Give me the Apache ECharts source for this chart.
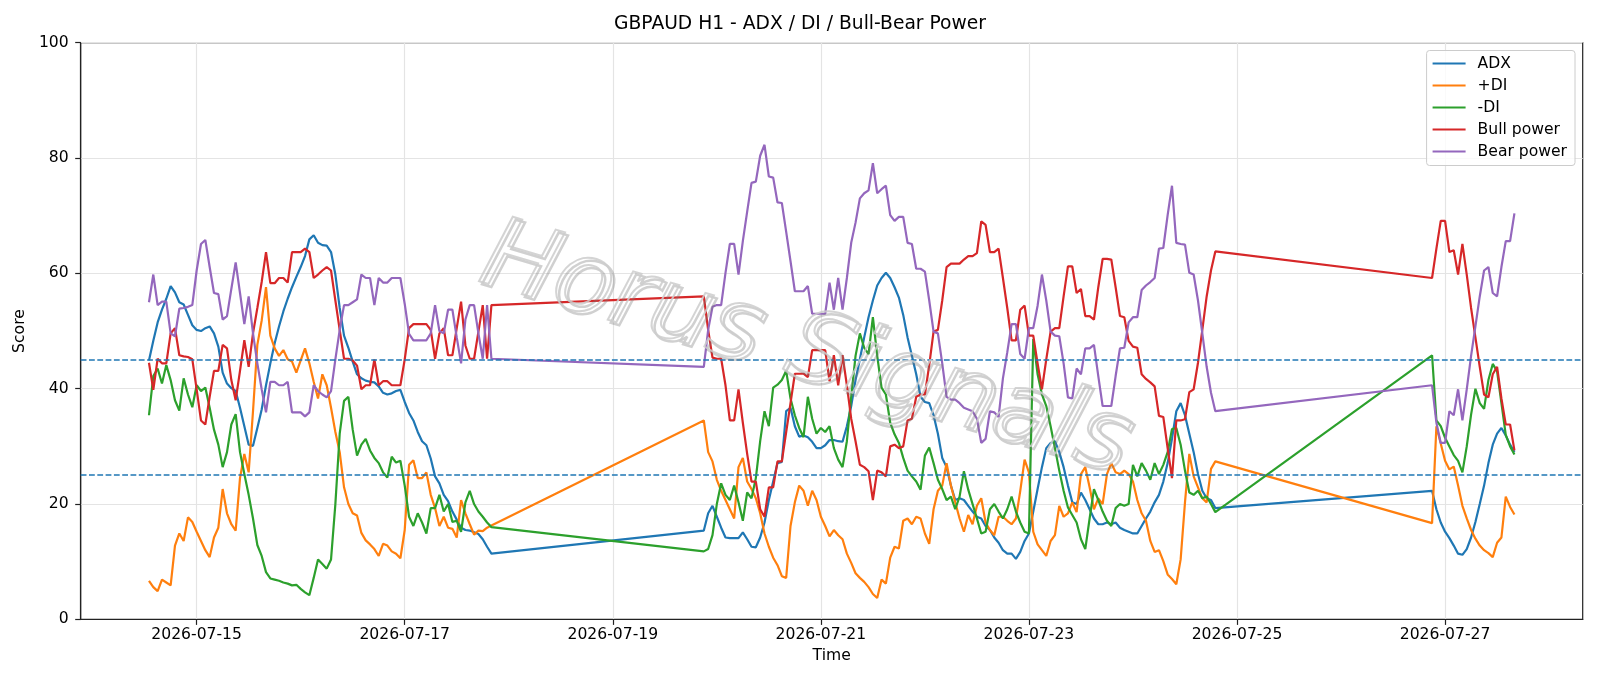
<!DOCTYPE html>
<html>
<head>
<meta charset="utf-8">
<title>GBPAUD H1 - ADX / DI / Bull-Bear Power</title>
<script src="https://cdn.jsdelivr.net/npm/echarts@6/dist/echarts.min.js"></script>
<style>
    html, body { margin: 0; padding: 0; background: #fff; }
    #main { width: 1600px; height: 686px; }
</style>
</head>
<body>
<div id="main"></div>
<script>
// hourly bars, three sessions (the weekends are not in the data)
var sessionStarts = ['2026-07-14T13:00:00', '2026-07-19T21:00:00', '2026-07-26T21:00:00'];
var sessionLengths = [80, 119, 20];
var tickDays = ['2026-07-15', '2026-07-17', '2026-07-19', '2026-07-21', '2026-07-23', '2026-07-25', '2026-07-27'];
var levels = [45, 25];
var seriesNames = ['ADX', '+DI', '-DI', 'Bull power', 'Bear power'];

var adx = [
    44.9, 48.3, 51.5, 53.7, 55.6, 57.8, 56.7, 55.0, 54.6, 52.8, 51.0, 50.2, 50.0, 50.5, 50.8, 49.6, 47.3, 42.8, 40.9, 40.1,
    39.6, 36.7, 33.5, 30.3, 30.1, 33.2, 36.4, 40.6, 44.4, 47.9, 50.8, 53.4, 55.6, 57.6, 59.4, 61.1, 63.0, 65.9, 66.6, 65.3,
    64.9, 64.8, 63.7, 59.8, 54.0, 49.2, 47.1, 44.7, 42.5, 41.8, 41.4, 41.2, 41.1, 40.4, 39.3, 39.0, 39.2, 39.6, 39.8, 37.7,
    35.8, 34.5, 32.5, 30.9, 30.2, 27.9, 24.8, 23.6, 21.6, 20.5, 18.7, 17.3, 15.9, 15.5, 15.4, 15.1, 14.8, 13.9, 12.6, 11.4,
    // week 2
    15.4, 18.4, 19.7, 17.8, 15.9, 14.2, 14.1, 14.1, 14.1, 15.1, 13.9, 12.6, 12.5, 14.2, 16.8, 20.7, 23.9, 27.1, 27.3, 36.1,
    36.7, 33.5, 31.7, 31.9, 31.6, 30.8, 29.7, 29.7, 30.2, 31.1, 31.1, 30.9, 30.8, 33.5, 37.0, 41.5, 45.1, 48.9, 52.4, 55.3,
    57.9, 59.2, 60.1, 59.2, 57.6, 55.8, 52.8, 48.9, 45.7, 42.5, 38.6, 37.7, 37.5, 35.4, 32.2, 28.0, 26.4, 23.2, 20.7, 21.0,
    20.7, 19.7, 18.7, 17.8, 17.5, 16.2, 15.5, 14.2, 13.3, 12.0, 11.4, 11.4, 10.5, 11.7, 13.6, 14.9, 18.7, 22.6, 26.4, 29.7,
    30.6, 30.9, 29.0, 26.4, 23.2, 20.3, 20.0, 22.0, 20.7, 19.1, 17.5, 16.5, 16.5, 16.8, 16.5, 16.8, 15.9, 15.5, 15.2, 14.9,
    14.9, 16.2, 17.5, 18.7, 20.3, 21.6, 23.9, 27.1, 31.3, 36.1, 37.5, 35.4, 32.2, 29.0, 25.2, 22.3, 21.0, 20.7, 19.3,
    // week 3
    22.3, 19.1, 16.8, 15.2, 14.1, 12.8, 11.4, 11.2, 12.2, 14.2, 16.9, 20.0, 23.2, 27.1, 30.3, 32.2, 33.2, 31.9, 30.3, 29.0
];

var plusDi = [
    6.7, 5.6, 4.9, 6.9, 6.4, 5.9, 12.8, 14.9, 13.6, 17.7, 16.9, 15.2, 13.6, 12.0, 10.8, 14.2, 15.9, 22.6, 18.4, 16.5,
    15.4, 24.5, 28.7, 25.5, 36.1, 47.6, 51.8, 57.6, 49.2, 47.0, 45.7, 46.7, 45.1, 44.7, 42.8, 44.9, 47.0, 44.4, 41.2, 38.3,
    42.5, 40.6, 36.7, 32.5, 29.0, 22.9, 20.0, 18.4, 18.0, 15.0, 13.7, 13.0, 12.2, 11.0, 13.1, 12.8, 11.8, 11.4, 10.6, 15.5,
    26.8, 27.6, 24.5, 24.5, 25.5, 21.6, 19.3, 16.2, 17.8, 15.9, 15.7, 14.2, 20.7, 18.4, 16.5, 14.7, 15.4, 15.3, 15.9, 16.3,
    // week 2
    34.5, 29.0, 27.4, 24.2, 22.3, 20.7, 19.1, 17.5, 26.4, 28.0, 23.9, 22.6, 21.0, 18.4, 14.9, 12.6, 10.7, 9.4, 7.5, 7.2,
    16.2, 20.3, 23.2, 22.3, 19.7, 22.3, 20.7, 17.8, 16.2, 14.4, 15.5, 14.6, 13.9, 11.4, 9.8, 8.0, 7.2, 6.5, 5.6, 4.4,
    3.7, 6.9, 6.2, 10.7, 12.6, 12.3, 17.1, 17.5, 16.5, 17.8, 17.5, 14.9, 13.1, 19.1, 22.3, 23.2, 27.1, 23.2, 20.3, 17.5,
    15.2, 18.1, 16.5, 19.7, 21.0, 16.8, 15.5, 14.6, 17.8, 17.8, 17.1, 16.5, 17.5, 22.3, 27.7, 25.5, 15.2, 13.0, 12.0, 11.0,
    13.6, 14.6, 19.7, 17.8, 18.4, 20.3, 18.6, 25.2, 26.4, 22.9, 19.1, 21.0, 20.0, 25.2, 27.1, 25.5, 25.2, 25.8, 25.2, 23.9,
    20.7, 18.4, 17.1, 13.6, 11.7, 12.0, 10.1, 7.8, 7.0, 6.1, 10.4, 20.3, 28.7, 24.8, 22.9, 21.0, 20.3, 26.1, 27.4,
    // week 3
    16.7, 33.5, 30.5, 27.5, 26.0, 26.5, 23.2, 19.7, 17.5, 15.5, 14.0, 12.8, 12.0, 11.5, 10.8, 13.3, 14.2, 21.3, 19.5, 18.2
];

var minusDi = [
    35.4, 42.2, 43.5, 40.9, 44.1, 41.5, 38.0, 36.2, 41.8, 39.0, 36.8, 40.6, 39.6, 40.2, 36.7, 32.9, 30.3, 26.4, 29.0, 33.8,
    35.6, 29.0, 25.2, 21.6, 17.5, 12.9, 11.0, 8.2, 7.1, 6.9, 6.7, 6.4, 6.2, 5.9, 6.0, 5.3, 4.7, 4.2, 7.2, 10.4,
    9.6, 8.8, 10.4, 20.0, 32.2, 37.9, 38.6, 32.9, 28.4, 30.3, 31.3, 29.3, 28.0, 27.1, 25.5, 24.6, 28.2, 27.2, 27.5, 23.2,
    17.8, 16.2, 18.4, 16.8, 14.9, 19.3, 19.3, 21.6, 18.7, 20.0, 16.9, 17.1, 15.2, 20.3, 22.3, 20.0, 18.7, 17.8, 16.8, 16.0,
    // week 2
    11.8, 12.2, 14.6, 20.0, 23.6, 21.6, 20.7, 23.2, 20.3, 17.1, 22.0, 21.0, 24.5, 30.9, 36.1, 33.5, 40.2, 40.7, 41.5, 43.1,
    38.3, 35.4, 33.2, 31.6, 38.6, 34.8, 32.2, 33.2, 32.5, 33.5, 29.7, 27.7, 26.4, 30.9, 38.6, 45.7, 49.6, 47.1, 46.0, 52.4,
    45.7, 40.2, 39.0, 34.1, 32.1, 30.6, 28.0, 25.8, 24.8, 23.9, 22.5, 28.4, 29.8, 27.1, 24.2, 22.6, 20.7, 21.3, 19.1, 21.3,
    25.7, 22.5, 20.0, 17.5, 14.9, 15.2, 19.1, 20.0, 18.7, 17.5, 19.1, 21.3, 18.7, 16.8, 15.2, 14.9, 48.6, 42.5, 39.0, 37.0,
    33.5, 29.7, 25.8, 22.3, 19.4, 18.1, 16.8, 13.9, 12.2, 17.5, 22.6, 20.7, 18.7, 17.1, 16.2, 19.3, 20.0, 19.7, 20.0, 26.8,
    24.8, 27.1, 25.8, 24.2, 27.1, 25.2, 26.8, 29.0, 33.0, 33.2, 30.3, 25.8, 22.0, 21.6, 22.3, 21.0, 21.3, 20.0, 18.6,
    // week 3
    45.8, 34.5, 33.5, 31.5, 30.0, 28.5, 27.5, 25.5, 30.0, 35.5, 40.0, 37.5, 36.5, 41.5, 44.3, 43.0, 37.5, 32.0, 30.0, 28.6
];

var bullPower = [
    44.5, 39.8, 45.2, 44.4, 44.4, 49.6, 50.5, 45.8, 45.6, 45.5, 45.1, 39.9, 34.5, 33.8, 38.6, 43.1, 43.1, 47.6, 47.0, 41.5,
    38.0, 43.1, 48.4, 43.8, 49.6, 54.0, 58.5, 63.7, 58.3, 58.3, 59.2, 59.2, 58.4, 63.7, 63.7, 63.7, 64.3, 63.7, 59.2, 59.8,
    60.5, 61.1, 60.5, 55.3, 50.2, 45.2, 45.2, 44.9, 44.0, 39.9, 40.6, 40.6, 45.1, 40.6, 41.3, 41.3, 40.6, 40.6, 40.6, 45.1,
    50.5, 51.2, 51.2, 51.2, 51.2, 50.2, 45.2, 49.6, 50.5, 45.8, 45.8, 50.5, 55.1, 47.5, 45.2, 45.2, 49.9, 54.5, 45.2, 54.5,
    // week 2
    56.0, 50.2, 45.4, 45.2, 45.2, 40.6, 34.5, 34.5, 39.9, 34.1, 28.7, 23.9, 23.9, 19.1, 17.8, 22.9, 22.9, 27.4, 27.4, 32.5,
    37.5, 42.6, 42.6, 42.6, 42.0, 46.7, 46.7, 46.7, 46.7, 41.3, 45.8, 40.6, 45.8, 40.6, 34.8, 30.9, 26.8, 26.4, 25.7, 20.7,
    25.8, 25.5, 24.8, 30.0, 30.3, 29.7, 30.0, 34.5, 34.8, 38.6, 39.0, 39.0, 44.1, 49.9, 50.2, 55.3, 61.1, 61.7, 61.7, 61.7,
    62.4, 63.0, 63.0, 63.5, 69.0, 68.4, 63.7, 63.7, 64.3, 59.2, 54.0, 48.4, 48.4, 53.7, 54.4, 49.2, 49.2, 44.4, 39.9, 45.1,
    49.9, 50.5, 50.5, 56.0, 61.2, 61.2, 56.6, 57.3, 52.6, 52.6, 52.0, 57.6, 62.5, 62.5, 62.4, 57.6, 52.6, 52.4, 48.3, 47.3,
    47.1, 42.5, 41.7, 41.1, 40.4, 35.3, 35.1, 29.7, 24.5, 34.5, 34.5, 34.7, 39.4, 39.9, 44.5, 50.2, 56.0, 60.5, 63.8,
    // week 3
    59.2, 64.3, 69.1, 69.1, 63.7, 64.0, 59.8, 65.1, 59.8, 54.0, 48.9, 43.8, 39.0, 38.5, 42.5, 43.8, 38.3, 33.8, 33.8, 29.3
];

var bearPower = [
    55.0, 59.8, 54.5, 55.1, 55.1, 49.6, 49.1, 53.9, 54.0, 54.2, 54.5, 60.5, 65.1, 65.8, 61.1, 56.6, 56.4, 52.0, 52.6, 57.3,
    61.9, 56.6, 51.2, 56.0, 49.6, 44.4, 39.9, 35.9, 41.2, 41.2, 40.6, 40.6, 41.2, 35.9, 35.9, 35.9, 35.2, 35.9, 40.6, 39.6,
    39.0, 38.5, 39.6, 45.1, 50.2, 54.5, 54.5, 55.0, 55.5, 59.8, 59.2, 59.2, 54.5, 59.2, 58.4, 58.4, 59.2, 59.2, 59.2, 54.7,
    49.5, 48.4, 48.4, 48.4, 48.4, 49.6, 54.5, 50.0, 49.6, 53.7, 53.7, 48.9, 44.4, 52.0, 54.5, 54.5, 49.6, 45.2, 54.5, 45.2,
    // week 2
    43.8, 50.2, 54.2, 54.5, 54.5, 60.1, 65.1, 65.1, 59.8, 65.6, 70.7, 75.7, 75.9, 80.4, 82.3, 76.8, 76.6, 72.3, 72.2, 67.2,
    62.1, 56.9, 56.9, 56.9, 57.8, 53.0, 53.0, 53.0, 53.0, 58.4, 53.7, 59.2, 53.7, 59.2, 65.3, 68.8, 73.0, 73.9, 74.4, 79.1,
    73.9, 74.6, 75.2, 70.1, 69.1, 69.8, 69.8, 65.3, 65.1, 60.8, 60.8, 60.3, 55.3, 49.9, 49.6, 44.4, 38.6, 38.1, 38.1, 37.5,
    36.7, 36.4, 36.1, 34.8, 30.6, 31.3, 36.1, 35.9, 35.1, 41.8, 46.3, 51.2, 51.2, 46.0, 45.2, 50.5, 50.5, 54.4, 59.8, 55.3,
    49.9, 49.2, 49.1, 44.4, 38.5, 38.3, 43.5, 42.5, 47.0, 47.0, 47.6, 42.2, 37.0, 37.0, 37.0, 42.2, 47.0, 47.1, 51.5, 52.4,
    52.4, 57.1, 57.9, 58.5, 59.2, 64.3, 64.4, 70.1, 75.2, 65.3, 65.1, 65.0, 60.1, 59.8, 55.3, 49.6, 43.8, 39.3, 36.1,
    // week 3
    40.6, 34.1, 30.6, 30.6, 36.1, 35.4, 39.9, 34.5, 39.9, 45.7, 50.8, 56.0, 60.5, 61.1, 56.6, 56.0, 61.1, 65.6, 65.6, 70.4
];

var colors = ['#1f77b4', '#ff7f0e', '#2ca02c', '#d62728', '#9467bd'];
var font = 'DejaVu Sans';

var times = [];
sessionStarts.forEach(function (s, i) {
    var t0 = new Date(s).getTime();
    for (var k = 0; k < sessionLengths[i]; k++) {
        times.push(t0 + k * 3600000);
    }
});
var tickTimes = tickDays.map(function (d) { return new Date(d + 'T00:00:00').getTime(); });

// matplotlib-style 5% margin on both sides
var span = times[times.length - 1] - times[0];
var xMin = times[0] - span * 0.05;
var xMax = times[times.length - 1] + span * 0.05;

function pad(n) { return n < 10 ? '0' + n : '' + n; }
function dayLabel(v) {
    var d = new Date(v);
    return d.getFullYear() + '-' + pad(d.getMonth() + 1) + '-' + pad(d.getDate());
}
function pairs(values) {
    return values.map(function (v, i) { return [times[i], v]; });
}

var myChart = echarts.init(document.getElementById('main'));

var seriesData = [adx, plusDi, minusDi, bullPower, bearPower];
var series = seriesData.map(function (vals, i) {
    return {
        name: seriesNames[i],
        type: 'line',
        data: pairs(vals),
        showSymbol: false,
        symbol: 'none',
        lineStyle: { color: colors[i], width: 2.2 },
        itemStyle: { color: colors[i] },
        animation: false
    };
});
series[0].markLine = {
    silent: true,
    symbol: ['none', 'none'],
    label: { show: false },
    animation: false,
    lineStyle: { color: '#1f77b4', width: 1.5, type: [5.8, 2.5] },
    data: levels.map(function (v) { return { yAxis: v }; })
};

var wmStyle = {
    text: 'Horus Signals',
    fontFamily: font,
    fontStyle: 'italic',
    fontSize: 98,
    align: 'center',
    verticalAlign: 'middle',
    fill: 'rgba(255,255,255,0)'
};

var option = {
    backgroundColor: '#fff',
    textStyle: { fontFamily: font },
    title: {
        text: 'GBPAUD H1 - ADX / DI / Bull-Bear Power',
        left: 'center',
        top: 15,
        padding: 0,
        textStyle: { fontSize: 18.7, fontWeight: 'normal', color: '#000', fontFamily: font }
    },
    legend: {
        orient: 'vertical',
        right: 25,
        top: 50.5,
        padding: [4, 8, 5, 6],
        itemGap: 4,
        itemWidth: 33,
        itemHeight: 2,
        icon: 'rect',
        backgroundColor: 'rgba(255,255,255,0.8)',
        borderColor: '#cccccc',
        borderWidth: 1,
        borderRadius: 3,
        data: seriesNames,
        textStyle: { fontSize: 15.6, color: '#000', lineHeight: 18, padding: [0, 0, 0, 7], fontFamily: font }
    },
    grid: {
        left: 80.7,
        right: 17.3,
        top: 42.7,
        bottom: 66.6,
        show: true,
        borderColor: '#222',
        borderWidth: 1.2,
        backgroundColor: 'rgba(0,0,0,0)'
    },
    xAxis: {
        type: 'value',
        min: xMin,
        max: xMax,
        name: 'Time',
        nameLocation: 'middle',
        nameGap: 28,
        nameTextStyle: { fontSize: 15.6, color: '#000', fontFamily: font },
        axisLine: { show: true, lineStyle: { color: '#222', width: 1.2 } },
        axisTick: { show: true, length: 5.5, customValues: tickTimes, lineStyle: { color: '#222', width: 1.2 } },
        axisLabel: {
            customValues: tickTimes,
            formatter: dayLabel,
            fontSize: 15.6,
            color: '#000',
            margin: 8,
            fontFamily: font
        },
        splitLine: { show: true, lineStyle: { color: '#e4e4e4', width: 1.2 } }
    },
    yAxis: {
        type: 'value',
        min: 0,
        max: 100,
        interval: 20,
        name: 'Score',
        nameLocation: 'middle',
        nameGap: 47,
        nameRotate: 90,
        nameTextStyle: { fontSize: 15.6, color: '#000', fontFamily: font },
        axisLine: { show: true, lineStyle: { color: '#222', width: 1.2 } },
        axisTick: { show: true, length: 5.5, lineStyle: { color: '#222', width: 1.2 } },
        axisLabel: { fontSize: 15.6, color: '#000', margin: 12, fontFamily: font },
        splitLine: { show: true, lineStyle: { color: '#e4e4e4', width: 1.2 } }
    },
    graphic: [
        {
            type: 'text', x: 808, y: 355, rotation: -0.29, z: 100, silent: true,
            style: Object.assign({}, wmStyle, { stroke: 'rgba(120,120,120,0.35)', lineWidth: 2.5 })
        },
        {
            type: 'text', x: 805, y: 352, rotation: -0.29, z: 101, silent: true,
            style: Object.assign({}, wmStyle, { stroke: 'rgba(205,205,205,0.85)', lineWidth: 2 })
        }
    ],
    series: series
};

myChart.setOption(option);
</script>
</body>
</html>
